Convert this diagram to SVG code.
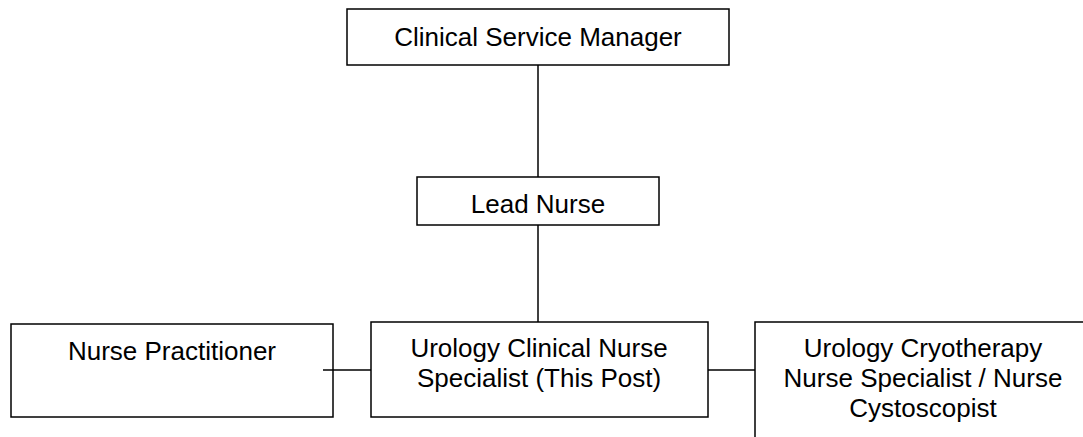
<svg xmlns="http://www.w3.org/2000/svg" width="1083" height="437" viewBox="0 0 1083 437">
<style>
.box{fill:#fff;stroke:#000;stroke-width:1.5}
.t{font-family:"Liberation Sans",Arial,sans-serif;font-size:26px;fill:#000;text-anchor:middle}
.c{stroke:#000;stroke-width:1.5;fill:none}
</style>
<rect width="1083" height="437" fill="#fff"/>
<g id="csm">
<rect class="box" x="347" y="9" width="382" height="56"/>
<text class="t" x="538" y="46">Clinical Service Manager</text>
</g>
<g id="lead">
<rect class="box" x="417" y="177" width="242" height="48"/>
<text class="t" x="538" y="213">Lead Nurse</text>
</g>
<g id="np">
<rect class="box" x="11" y="324" width="322" height="93"/>
<text class="t" x="172" y="360">Nurse Practitioner</text>
</g>
<g id="cns">
<rect class="box" x="371" y="322" width="337" height="95"/>
<text class="t" x="539" y="357">Urology Clinical Nurse</text>
<text class="t" x="539" y="387">Specialist (This Post)</text>
</g>
<g id="cryo">
<rect class="box" x="755" y="322" width="340" height="130"/>
<text class="t" x="923" y="357">Urology Cryotherapy</text>
<text class="t" x="923" y="387">Nurse Specialist / Nurse</text>
<text class="t" x="923" y="417">Cystoscopist</text>
</g>
<g id="connectors">
<line class="c" x1="538" y1="65" x2="538" y2="177"/>
<line class="c" x1="538" y1="225" x2="538" y2="322"/>
<line class="c" x1="323" y1="370" x2="371" y2="370"/>
<line class="c" x1="708" y1="370" x2="755" y2="370"/>
</g>
</svg>
